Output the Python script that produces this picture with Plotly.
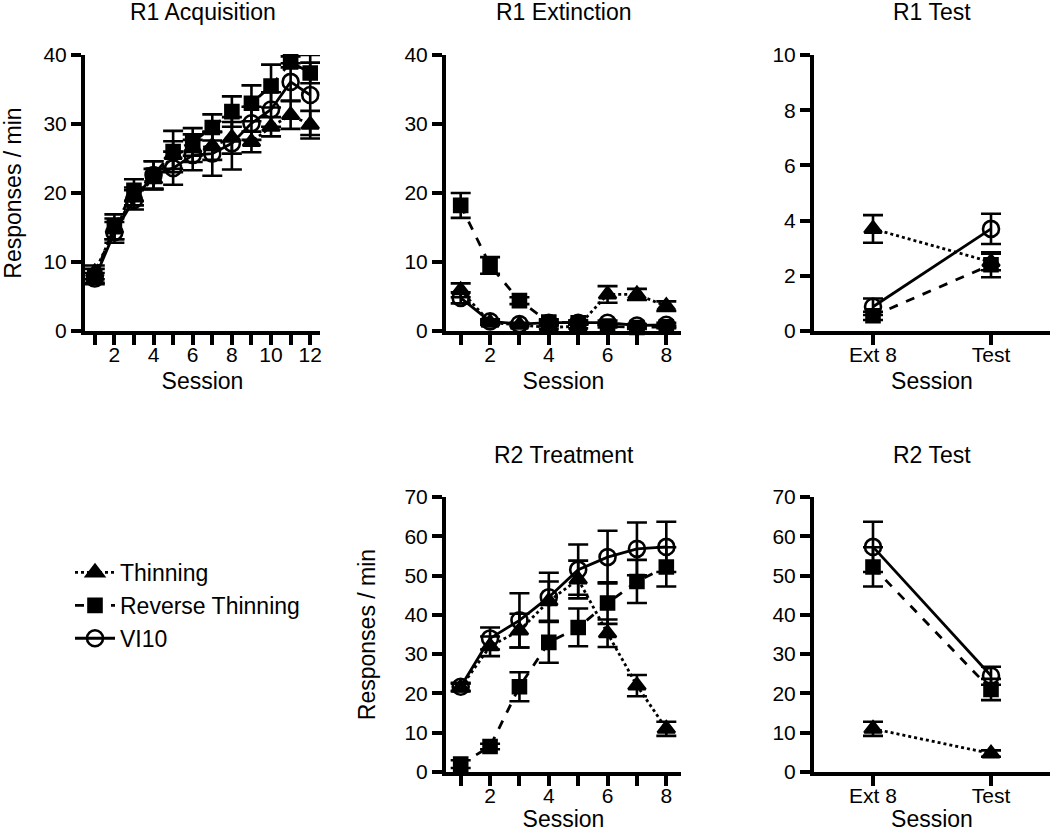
import plotly.graph_objects as go

# ---------------- data ----------------
series_names = ["Thinning", "Reverse Thinning", "VI10"]

acq_sessions = list(range(1, 13))
acq_thin = [8.5, 14.8, 19.5, 22.0, 25.5, 26.5, 26.8, 28.0, 27.4, 29.6, 31.3, 29.9]
acq_thin_err = [1.0, 1.5, 1.3, 1.5, 2.0, 2.0, 2.0, 2.3, 1.5, 1.4, 2.0, 2.0]
acq_rev = [8.0, 15.1, 20.4, 22.6, 26.0, 27.4, 29.5, 31.8, 33.0, 35.5, 39.0, 37.4]
acq_rev_err = [1.0, 1.8, 1.6, 2.0, 3.0, 2.0, 1.9, 2.2, 2.6, 3.1, 0.8, 1.5]
acq_vi = [7.6, 14.3, 19.0, 22.6, 23.6, 25.5, 25.7, 27.2, 30.1, 32.1, 36.1, 34.2]
acq_vi_err = [0.8, 1.5, 1.4, 2.0, 2.4, 2.2, 3.2, 3.8, 2.4, 2.5, 2.7, 5.8]

ext_sessions = list(range(1, 9))
ext_thin = [5.9, 1.2, 0.9, 0.5, 0.7, 5.3, 5.3, 3.6]
ext_thin_err = [1.0, 0.3, 0.2, 0.2, 0.3, 1.2, 0.8, 0.7]
ext_rev = [18.2, 9.5, 4.4, 1.3, 1.2, 0.7, 0.5, 0.6]
ext_rev_err = [1.8, 1.2, 0.5, 0.4, 0.3, 0.2, 0.2, 0.2]
ext_vi = [4.8, 1.4, 1.0, 1.2, 1.2, 1.2, 0.8, 0.9]
ext_vi_err = [0.8, 0.3, 0.2, 0.3, 0.3, 0.3, 0.2, 0.3]

test_labels = ["Ext 8", "Test"]
test_pos = [0, 1]
r1test_thin = [3.7, 2.5]
r1test_thin_err = [0.5, 0.3]
r1test_rev = [0.55, 2.4]
r1test_rev_err = [0.15, 0.45]
r1test_vi = [0.88, 3.7]
r1test_vi_err = [0.3, 0.55]

trt_sessions = list(range(1, 9))
trt_thin = [21.5, 32.0, 36.0, 43.5, 49.0, 35.3, 22.0, 11.0]
trt_thin_err = [1.0, 2.5, 4.3, 5.0, 4.8, 3.5, 2.7, 1.8]
trt_rev = [2.0, 6.5, 21.7, 33.0, 36.8, 43.0, 48.5, 52.2]
trt_rev_err = [1.0, 0.7, 3.7, 5.2, 4.8, 5.3, 5.5, 5.0]
trt_vi = [21.7, 34.0, 38.6, 44.5, 51.5, 54.7, 56.8, 57.3]
trt_vi_err = [1.0, 2.8, 6.9, 6.2, 6.4, 6.7, 6.7, 6.4]

r2test_thin = [11.0, 4.7]
r2test_thin_err = [1.8, 0.8]
r2test_rev = [52.2, 21.0]
r2test_rev_err = [5.0, 2.7]
r2test_vi = [57.3, 24.5]
r2test_vi_err = [6.4, 2.3]

# ---------------- styling ----------------
FONT = "Liberation Sans, Arial, Helvetica, sans-serif"
FS_TICK = 21
FS_TEXT = 23
styles = {
    "Thinning": dict(dash="dot", symbol="triangle-up", size=15),
    "Reverse Thinning": dict(dash="dash", symbol="square", size=13),
    "VI10": dict(dash="solid", symbol="circle-open", size=16),
}

fig = go.Figure()


def add_panel(xs, ys_list, errs_list, xa, ya, show_legend):
    for name, ys, es in zip(series_names, ys_list, errs_list):
        st = styles[name]
        fig.add_trace(go.Scatter(
            x=xs, y=ys, name=name, mode="lines+markers",
            xaxis=xa, yaxis=ya, showlegend=show_legend, cliponaxis=False,
            line=dict(color="black", width=2.8, dash=st["dash"]),
            marker=dict(symbol=st["symbol"], size=st["size"], color="black",
                        line=dict(color="black", width=2.6)),
            error_y=dict(type="data", array=es, visible=True, color="black",
                         thickness=2.6, width=10),
        ))


add_panel(acq_sessions, [acq_thin, acq_rev, acq_vi],
          [acq_thin_err, acq_rev_err, acq_vi_err], "x", "y", True)
add_panel(ext_sessions, [ext_thin, ext_rev, ext_vi],
          [ext_thin_err, ext_rev_err, ext_vi_err], "x2", "y2", False)
add_panel(test_pos, [r1test_thin, r1test_rev, r1test_vi],
          [r1test_thin_err, r1test_rev_err, r1test_vi_err], "x3", "y3", False)
add_panel(trt_sessions, [trt_thin, trt_rev, trt_vi],
          [trt_thin_err, trt_rev_err, trt_vi_err], "x4", "y4", False)
add_panel(test_pos, [r2test_thin, r2test_rev, r2test_vi],
          [r2test_thin_err, r2test_rev_err, r2test_vi_err], "x5", "y5", False)

W, H = 1050, 832


def px_x(p):
    return p / W


def px_y(p):
    return 1 - p / H


top_y = [px_y(331), px_y(55)]
bot_y = [px_y(772), px_y(497)]
col1 = [px_x(85), px_x(320)]
col2 = [px_x(446), px_x(681)]
col3 = [px_x(814), 1.0]

axis_common = dict(showline=True, linecolor="black", linewidth=4,
                   ticks="outside", ticklen=10, tickwidth=4, tickcolor="black",
                   showgrid=False, zeroline=False, automargin=False,
                   tickfont=dict(family=FONT, size=FS_TICK, color="black"))
xaxis_common = dict(ticklabelstandoff=-8, **axis_common)


def sess_ticks(n):
    return dict(tickmode="array", tickvals=list(range(1, n + 1)),
                ticktext=[str(i) if i % 2 == 0 else "" for i in range(1, n + 1)])


def xtitle():
    return dict(text="Session", font=dict(family=FONT, size=FS_TEXT, color="black"),
                standoff=9)


def ytitle(standoff):
    return dict(text="Responses / min", font=dict(family=FONT, size=FS_TEXT, color="black"),
                standoff=standoff)


fig.update_layout(
    width=W, height=H,
    margin=dict(l=0, r=0, t=0, b=0, autoexpand=False),
    paper_bgcolor="white", plot_bgcolor="white",
    font=dict(family=FONT, size=FS_TICK, color="black"),
    xaxis=dict(domain=col1, anchor="y", range=[0.5, 12.5], title=xtitle(),
               **sess_ticks(12), **xaxis_common),
    yaxis=dict(domain=top_y, anchor="x", range=[0, 40], tickvals=[0, 10, 20, 30, 40],
               title=ytitle(33), **axis_common),
    xaxis2=dict(domain=col2, anchor="y2", range=[0.5, 8.5], title=xtitle(),
                **sess_ticks(8), **xaxis_common),
    yaxis2=dict(domain=top_y, anchor="x2", range=[0, 40], tickvals=[0, 10, 20, 30, 40],
                **axis_common),
    xaxis3=dict(domain=col3, anchor="y3", range=[-0.5, 1.5], title=xtitle(),
                tickmode="array", tickvals=test_pos, ticktext=test_labels, **xaxis_common),
    yaxis3=dict(domain=top_y, anchor="x3", range=[0, 10], tickvals=[0, 2, 4, 6, 8, 10],
                **axis_common),
    xaxis4=dict(domain=col2, anchor="y4", range=[0.5, 8.5], title=xtitle(),
                **sess_ticks(8), **xaxis_common),
    yaxis4=dict(domain=bot_y, anchor="x4", range=[0, 70],
                tickvals=[0, 10, 20, 30, 40, 50, 60, 70], title=ytitle(23), **axis_common),
    xaxis5=dict(domain=col3, anchor="y5", range=[-0.5, 1.5], title=xtitle(),
                tickmode="array", tickvals=test_pos, ticktext=test_labels, **xaxis_common),
    yaxis5=dict(domain=bot_y, anchor="x5", range=[0, 70],
                tickvals=[0, 10, 20, 30, 40, 50, 60, 70], **axis_common),
    legend=dict(x=px_x(70), y=px_y(551), xanchor="left", yanchor="top",
                font=dict(family=FONT, size=FS_TEXT, color="black"),
                bgcolor="rgba(0,0,0,0)", tracegroupgap=0, itemwidth=40),
)

titles = [("R1 Acquisition", col1, -3), ("R1 Extinction", col2, -3), ("R1 Test", col3, -3),
          ("R2 Treatment", col2, 440), ("R2 Test", col3, 440)]
for text, col, ypx in titles:
    fig.add_annotation(text=text, x=(col[0] + col[1]) / 2, y=px_y(ypx), xref="paper",
                       yref="paper", showarrow=False, xanchor="center", yanchor="top",
                       font=dict(family=FONT, size=FS_TEXT, color="black"))

# remove the browser's default 8px body margin so the figure fills the window exactly
fig.write_html("out.html", config={"displayModeBar": False},
               post_script="document.body.style.margin='0px';")
